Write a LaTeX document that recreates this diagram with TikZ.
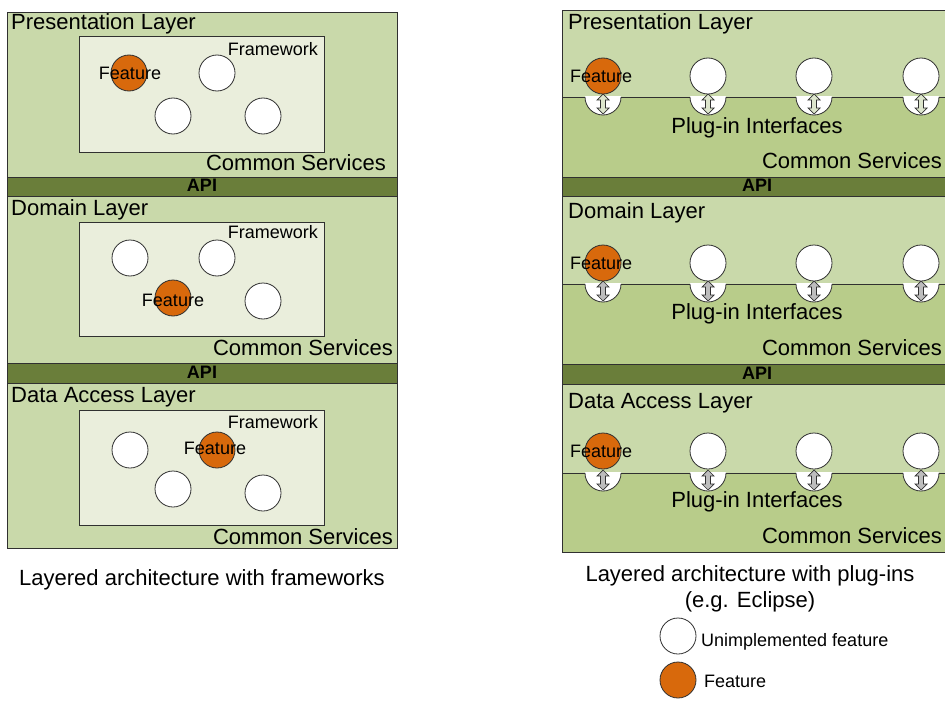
\documentclass[tikz,border=0pt]{standalone}
\usepackage{fontspec}
\setmainfont{Liberation Sans}
\definecolor{layer}{HTML}{C9D9AA}
\definecolor{layerdark}{HTML}{B8CC8A}
\definecolor{apibar}{HTML}{6A7E3A}
\definecolor{fwbox}{HTML}{EAEEDC}
\definecolor{feat}{HTML}{D8690C}
\definecolor{edge}{HTML}{303030}
\definecolor{arrlight}{HTML}{DDE6CC}
\definecolor{arrgray}{HTML}{BDBDBD}
\tikzset{
  lyr/.style={draw=edge, fill=layer, line width=0.9pt},
  lyrdark/.style={draw=edge, fill=layerdark, line width=0.9pt},
  apib/.style={draw=edge, fill=apibar, line width=0.9pt},
  fw/.style={draw=edge, fill=fwbox, line width=0.9pt},
  circ/.style={circle, draw=edge, fill=white, minimum size=36pt, inner sep=0pt, line width=0.8pt},
  featc/.style={circ, fill=feat},
  big/.style={font=\fontsize{22}{26}\selectfont, inner sep=0pt, text height=15.8pt, text depth=0pt},
  sml/.style={font=\fontsize{18}{21}\selectfont, inner sep=0pt, text height=12.9pt, text depth=0pt},
  apit/.style={font=\fontsize{18}{20}\selectfont\bfseries, inner sep=0pt, text height=12.9pt, text depth=0pt},
}
\begin{document}
\begin{tikzpicture}[x=1pt, y=-1pt]
\useasboundingbox (0,0) rectangle (945,701);

% ================= LEFT PANEL =================
\draw[lyr] (7,12) rectangle (397,177);
\draw[apib] (7,177) rectangle (397,196);
\draw[lyr] (7,196) rectangle (397,363);
\draw[apib] (7,363) rectangle (397,383);
\draw[lyr] (7,383) rectangle (397,548);

\node[apit] (lapi1) at (202,185) {API};
\node[apit] (lapi2) at (202,372) {API};

% Presentation
\node[big, anchor=west] (lpl) at (11,22) {Presentation Layer};
\draw[fw] (79,36) rectangle (324,152);
\node[sml, anchor=east] (lpfw) at (318,49) {Framework};
\node[featc] (lp1) at (129,73) {};
\node[circ] (lp2) at (217,73) {};
\node[circ] (lp3) at (173,116) {};
\node[circ] (lp4) at (263,116) {};
\node[sml] (lpft) at (130,73) {Feature};
\node[big, anchor=east] (lpcs) at (386,163) {Common Services};

% Domain
\node[big, anchor=west] (ldl) at (11,208) {Domain Layer};
\draw[fw] (79,222) rectangle (324,336);
\node[sml, anchor=east] (ldfw) at (318,232) {Framework};
\node[circ] (ld1) at (130,258) {};
\node[circ] (ld2) at (217,258) {};
\node[featc] (ld3) at (173,298) {};
\node[circ] (ld4) at (263,301) {};
\node[sml] (ldft) at (173,300) {Feature};
\node[big, anchor=east] (ldcs) at (393,348) {Common Services};

% Data access
\node[big, anchor=west] (lal) at (11,395) {Data Access Layer};
\draw[fw] (79,410) rectangle (324,525);
\node[sml, anchor=east] (lafw) at (318,422) {Framework};
\node[circ] (la1) at (130,450) {};
\node[featc] (la2) at (217,450) {};
\node[circ] (la3) at (173,489) {};
\node[circ] (la4) at (263,493) {};
\node[sml] (laft) at (215,448) {Feature};
\node[big, anchor=east] (lacs) at (393,537) {Common Services};

\node[big] (lcap) at (202,578) {Layered architecture with frameworks};

% ================= RIGHT PANEL =================
\draw[lyr] (562,10) rectangle (952,97);
\draw[lyrdark] (562,97) rectangle (952,177);
\draw[apib] (562,177) rectangle (952,196);
\draw[lyr] (562,196) rectangle (952,284);
\draw[lyrdark] (562,284) rectangle (952,364);
\draw[apib] (562,364) rectangle (952,384);
\draw[lyr] (562,384) rectangle (952,473);
\draw[lyrdark] (562,473) rectangle (952,552);

\node[apit] (rapi1) at (757,185) {API};
\node[apit] (rapi2) at (757,373) {API};

% sockets, arrows and plug circles
\foreach \L/\C/\af in {97/76/arrlight, 284/263/arrgray, 473/451/arrgray}{
  \foreach \cx in {603,708,814,921}{
    \fill[white] (\cx-18,\L-1) -- (\cx-18,\L) arc[start angle=180, end angle=0, radius=18] -- (\cx+18,\L-1) -- cycle;
    \draw[edge, line width=0.8pt] (\cx-18,\L) arc[start angle=180, end angle=0, radius=18];
    \draw[edge, fill=\af, line width=0.7pt, line join=miter]
      (\cx,\L-3) -- (\cx+6,\L+3) -- (\cx+2.5,\L+3) -- (\cx+2.5,\L+11) -- (\cx+6,\L+11)
      -- (\cx,\L+17) -- (\cx-6,\L+11) -- (\cx-2.5,\L+11) -- (\cx-2.5,\L+3) -- (\cx-6,\L+3) -- cycle;
  }
}

% Presentation
\node[big, anchor=west] (rpl) at (568,22) {Presentation Layer};
\node[featc] (rp1) at (603,76) {};
\node[circ] (rp2) at (708,76) {};
\node[circ] (rp3) at (814,76) {};
\node[circ] (rp4) at (921,76) {};
\node[sml, anchor=west] (rpft) at (570,76) {Feature};
\node[big] (rppi) at (757,126) {Plug-in Interfaces};
\node[big, anchor=east] (rpcs) at (942,161) {Common Services};

% Domain
\node[big, anchor=west] (rdl) at (568,211) {Domain Layer};
\node[featc] (rd1) at (603,263) {};
\node[circ] (rd2) at (708,263) {};
\node[circ] (rd3) at (814,263) {};
\node[circ] (rd4) at (921,263) {};
\node[sml, anchor=west] (rdft) at (570,263) {Feature};
\node[big] (rdpi) at (757,312) {Plug-in Interfaces};
\node[big, anchor=east] (rdcs) at (942,348) {Common Services};

% Data access
\node[big, anchor=west] (ral) at (568,401) {Data Access Layer};
\node[featc] (ra1) at (603,451) {};
\node[circ] (ra2) at (708,451) {};
\node[circ] (ra3) at (814,451) {};
\node[circ] (ra4) at (921,451) {};
\node[sml, anchor=west] (raft) at (570,451) {Feature};
\node[big] (rapi) at (757,500) {Plug-in Interfaces};
\node[big, anchor=east] (racs) at (942,536) {Common Services};

\node[big] (rcap1) at (750,574) {Layered architecture with plug-ins};
\node[big] (rcap2) at (750,600) {(e.g. Eclipse)};

% Legend
\node[circ] (lgw) at (678,636) {};
\node[sml, anchor=west] (lgwt) at (701,640) {Unimplemented feature};
\node[featc] (lgo) at (678,680) {};
\node[sml, anchor=west] (lgot) at (704,681) {Feature};
\end{tikzpicture}
\end{document}
